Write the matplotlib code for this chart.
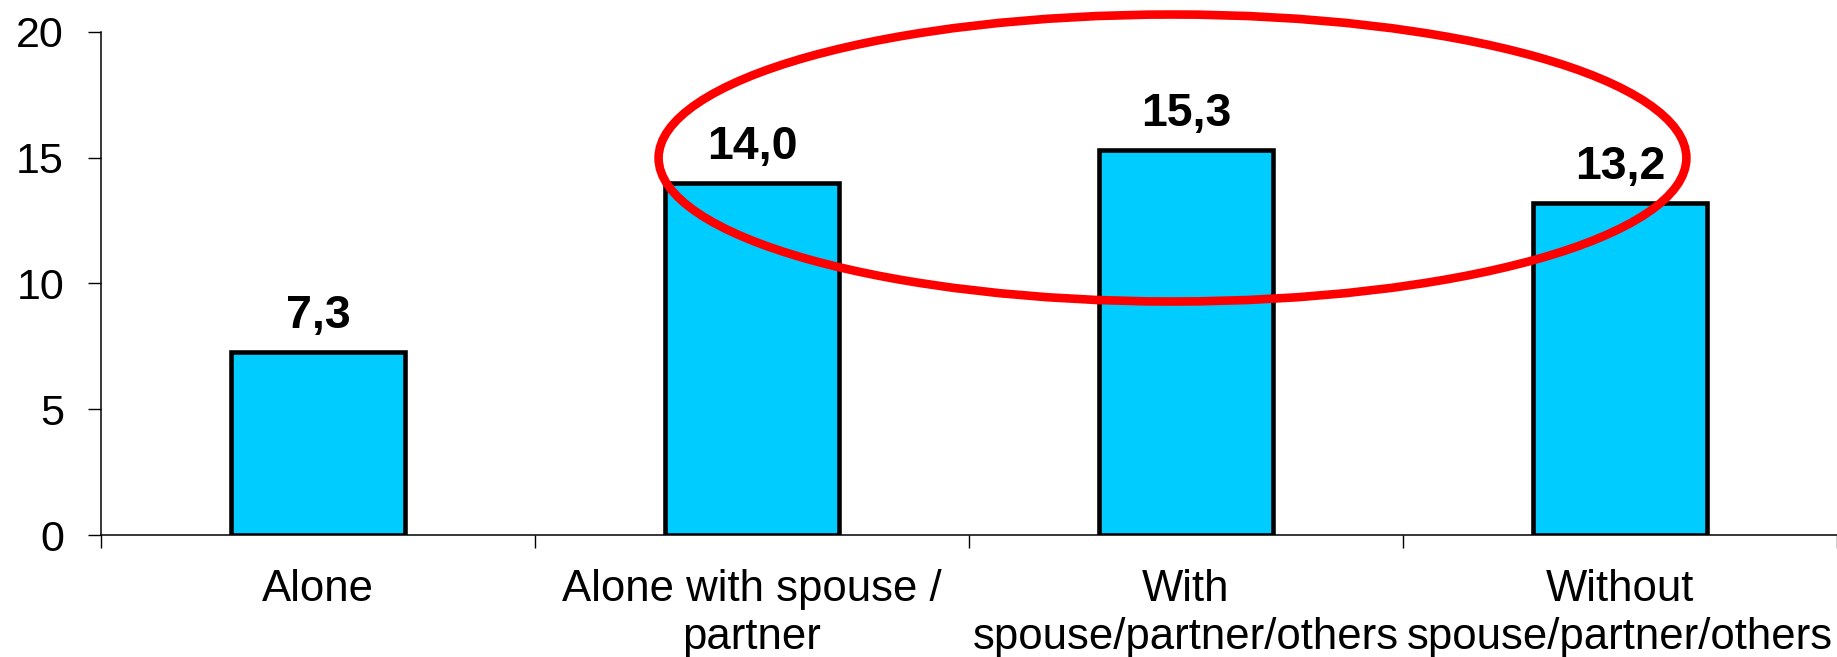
import matplotlib
matplotlib.use("Agg")
import matplotlib.pyplot as plt
from matplotlib.patches import Ellipse

categories = ["Alone", "Alone with spouse /\npartner", "With\nspouse/partner/others", "Without\nspouse/partner/others"]
values = [7.3, 14.0, 15.3, 13.2]
value_labels = ["7,3", "14,0", "15,3", "13,2"]
yticks = [0, 5, 10, 15, 20]

plt.rcParams['font.family'] = ['Liberation Sans', 'DejaVu Sans']

fig = plt.figure(figsize=(18.37, 6.57), dpi=100)
ax = fig.add_axes([0.0549, 0.185, 0.9451, 0.767])

x = list(range(len(categories)))
ax.bar(x, values, width=0.4, color="#00CCFF", edgecolor="black", linewidth=3.3, zorder=2)

for xi, v, lab in zip(x, values, value_labels):
    ax.annotate(lab, (xi, v), xytext=(0, 17), textcoords="offset points",
                ha="center", va="baseline", fontsize=33.5, fontweight="bold")

ax.set_xlim(-0.5, 3.5)
ax.set_ylim(0, 20)
ax.set_yticks(yticks)
ax.set_yticklabels([str(t) for t in yticks], fontsize=31)
ax.tick_params(axis="y", direction="out", length=9.5, width=1, pad=17)

# category boundaries as ticks, labels as minor ticks at centers
ax.set_xticks([-0.5, 0.5, 1.5, 2.5, 3.5])
ax.set_xticklabels([])
ax.tick_params(axis="x", which="major", direction="out", length=9, width=1)
ax.set_xticks(x, minor=True)
ax.set_xticklabels(categories, minor=True, fontsize=31.5, linespacing=1.23)
ax.tick_params(axis="x", which="minor", length=0, pad=24)

for s in ["top", "right"]:
    ax.spines[s].set_visible(False)
for s in ["left", "bottom"]:
    ax.spines[s].set_linewidth(1.1)

ell = Ellipse((1.969, 14.98), width=2.368, height=11.39, fill=False,
              edgecolor="#FF0000", linewidth=6.2, clip_on=False, zorder=5)
ax.add_patch(ell)

fig.savefig("out.png", dpi=100)
